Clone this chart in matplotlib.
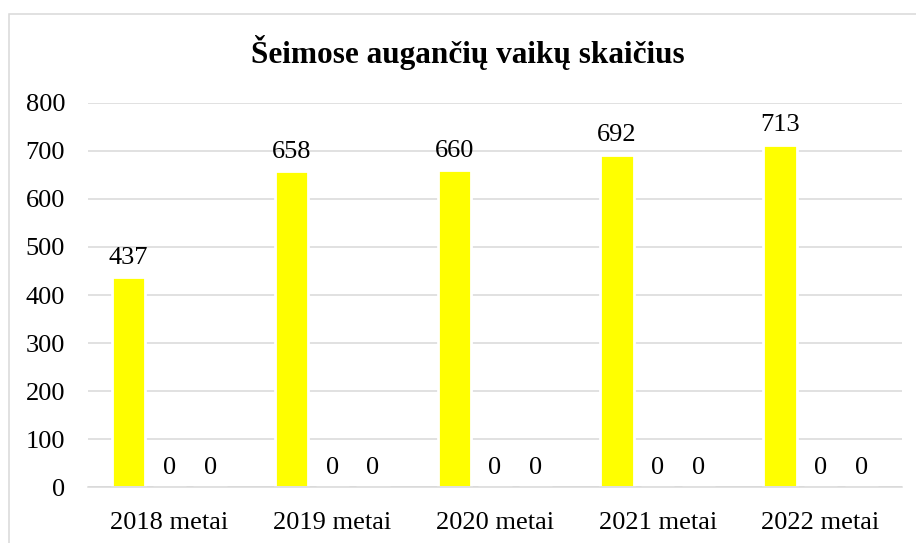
import numpy as np
import matplotlib.pyplot as plt
from matplotlib.patches import Rectangle

# data
categories = ['2018 metai', '2019 metai', '2020 metai', '2021 metai', '2022 metai']
series_1 = [437, 658, 660, 692, 713]
series_2 = [0, 0, 0, 0, 0]
series_3 = [0, 0, 0, 0, 0]
title = 'Šeimose augančių vaikų skaičius'

plt.rcParams['font.family'] = ['Liberation Serif', 'DejaVu Serif']
grid_col = '#d9d9d9'

fig = plt.figure(figsize=(9.16, 5.43), dpi=100)
ax = fig.add_axes([88/916, 1 - 487.3/543, (902 - 88)/916, (487.3 - 102.7)/543])

x = np.arange(len(categories))
step = 0.25
width = 0.205
colors = ['#ffff00', '#ffff00', '#ffff00']
for i, vals in enumerate([series_1, series_2, series_3]):
    pos = x + (i - 1) * step
    ax.bar(pos, vals, width, color=colors[i], edgecolor='white', linewidth=2.0, zorder=2)
    for px, v in zip(pos, vals):
        ax.annotate(str(v), (px, v), xytext=(0, 9.5), textcoords='offset points',
                    ha='center', va='baseline', fontsize=19)

ax.set_xlim(-0.5, len(categories) - 0.5)
ax.set_ylim(0, 800)
ax.set_yticks(np.arange(0, 801, 100))
ax.set_xticks(x)
ax.set_xticklabels(categories)
ax.tick_params(axis='both', length=0, labelsize=19)
ax.tick_params(axis='x', pad=18)
ax.tick_params(axis='y', pad=16.5)

ax.set_axisbelow(True)
ax.yaxis.grid(True, color=grid_col, linewidth=1.1)
for s in ['top', 'right', 'left']:
    ax.spines[s].set_visible(False)
ax.spines['bottom'].set_color(grid_col)
ax.spines['bottom'].set_linewidth(1.1)
ax.spines['bottom'].set_zorder(3)

fig.text(468/916, 1 - 52/543, title, ha='center', va='center',
         fontsize=22.5, fontweight='bold')

# chart border (right and bottom edges fall outside the picture)
fig.patches.append(Rectangle((8.5/916, -0.1), 1.2, 1 - 14/543 + 0.1,
                             transform=fig.transFigure, fill=False,
                             edgecolor=grid_col, linewidth=1.1))

fig.savefig('out.png', dpi=100)
